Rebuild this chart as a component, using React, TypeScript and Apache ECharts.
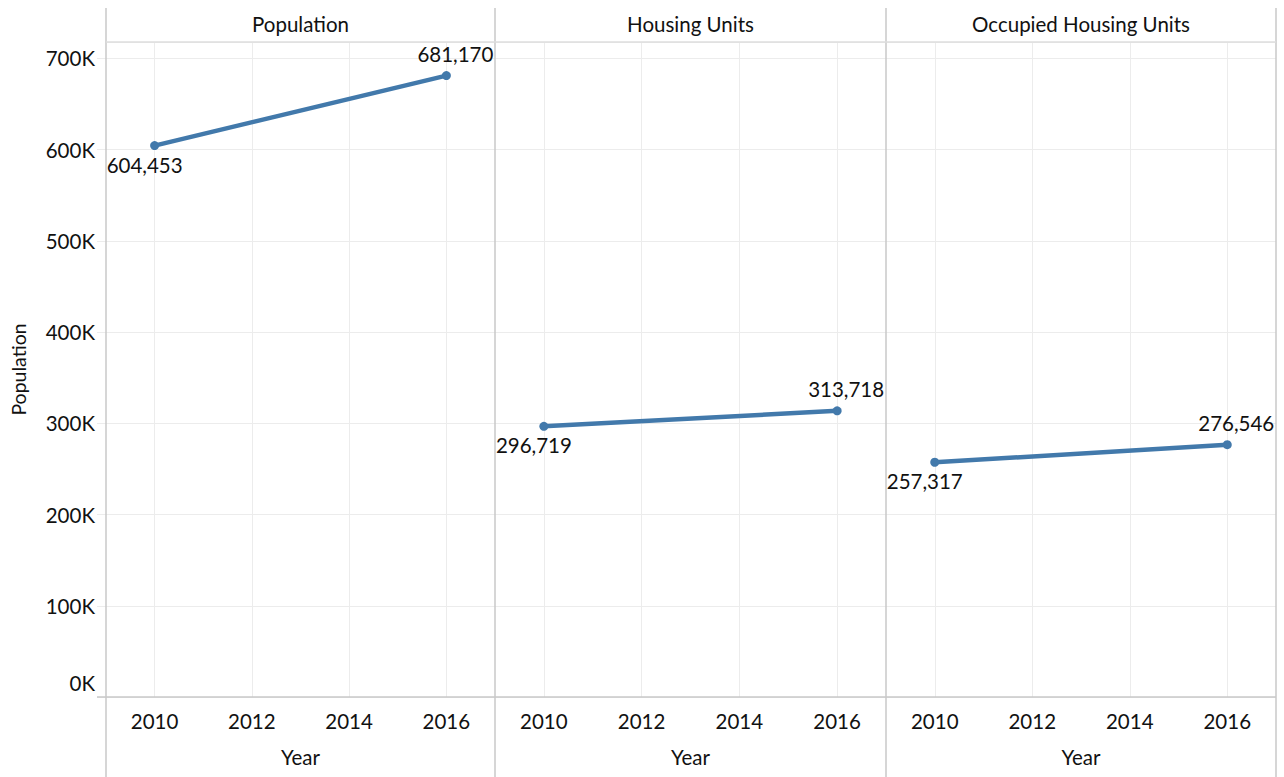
import React, { useEffect, useRef } from "react";
import * as echarts from "echarts";

const years = ["2009", "2010", "2011", "2012", "2013", "2014", "2015", "2016", "2017"];
const panelTitles = ["Population", "Housing Units", "Occupied Housing Units"];
const pointYears = ["2010", "2016"];
const populationValues = [604453, 681170];
const housingValues = [296719, 313718];
const occupiedValues = [257317, 276546];
const seriesValues = [populationValues, housingValues, occupiedValues];
const yTicks = [0, 100000, 200000, 300000, 400000, 500000, 600000, 700000];

const FONT = "Lato";
const FS = 20.5;
const TEXT = "#111111";
const LINE = "#4279ab";
const GRID = "#ececec";
const BORDER = "#c9c9c9";

const panelLeft = [106, 495, 886];
const panelRight = [495, 886, 1276];
const TOP = 42;
const BOTTOM = 697;

export default function App() {
  const ref = useRef<HTMLDivElement>(null);
  useEffect(() => {
    if (!ref.current) return;
    const chart = echarts.init(ref.current, null, { renderer: "svg" });
    const evenIdx = (i: number) => i % 2 === 1;
    const grids = panelLeft.map((l, i) => ({
      left: l,
      width: panelRight[i] - l,
      top: TOP,
      height: BOTTOM - TOP,
      containLabel: false,
    }));
    const xAxes = panelLeft.map((_, i) => ({
      type: "category",
      gridIndex: i,
      data: years,
      boundaryGap: false,
      axisLine: { show: false },
      axisTick: { show: false },
      axisLabel: {
        interval: (idx: number) => evenIdx(idx),
        color: TEXT,
        fontFamily: FONT,
        fontSize: FS,
        margin: 13,
      },
      splitLine: {
        show: true,
        interval: (idx: number) => evenIdx(idx),
        lineStyle: { color: GRID, width: 1 },
      },
      name: "Year",
      nameLocation: "middle",
      nameGap: 49,
      nameTextStyle: { color: TEXT, fontFamily: FONT, fontSize: FS },
    }));
    const yAxes = panelLeft.map((_, i) => ({
      type: "value",
      gridIndex: i,
      min: 0,
      max: 718000,
      interval: 100000,
      axisLine: { show: false },
      axisTick: {
        show: i === 0,
        length: 9,
        lineStyle: { color: GRID },
      },
      axisLabel: {
        show: i === 0,
        showMaxLabel: false,
        color: TEXT,
        fontFamily: FONT,
        fontSize: FS,
        margin: 11,
        formatter: (v: number) => {
          if (!yTicks.includes(v)) return "";
          if (v === 0) return "{z|0K}";
          return v / 1000 + "K";
        },
        rich: {
          z: { fontFamily: FONT, fontSize: FS, color: TEXT, padding: [0, 0, 28, 0] },
        },
      },
      splitLine: { show: true, lineStyle: { color: GRID, width: 1 } },
      name: i === 0 ? "Population" : "",
      nameLocation: "middle",
      nameGap: 78,
      nameTextStyle: { color: TEXT, fontFamily: FONT, fontSize: 19.5 },
    }));
    const series = seriesValues.map((vals, i) => ({
      type: "line",
      xAxisIndex: i,
      yAxisIndex: i,
      data: vals.map((v, j) => ({
        value: [pointYears[j], v],
        label:
          j === 0
            ? { position: "bottom", offset: [-10, -1] }
            : { position: "top", offset: [9, -2] },
      })),
      symbol: "circle",
      symbolSize: 9,
      lineStyle: { color: LINE, width: 4.5 },
      itemStyle: { color: LINE },
      label: {
        show: true,
        color: TEXT,
        fontFamily: FONT,
        fontSize: FS,
        formatter: (p: any) => Number(p.value[1]).toLocaleString("en-US"),
      },
    }));
    const lines: any[] = [];
    [106, 495, 886, 1276].forEach((x) => {
      lines.push({
        type: "line",
        shape: { x1: x, y1: 8, x2: x, y2: 777 },
        style: { stroke: BORDER, lineWidth: 1.5 },
        z: 10,
      });
    });
    lines.push({
      type: "line",
      shape: { x1: 106, y1: TOP, x2: 1276, y2: TOP },
      style: { stroke: "#dedede", lineWidth: 1.5 },
      z: 10,
    });
    lines.push({
      type: "line",
      shape: { x1: 97, y1: BOTTOM, x2: 1276, y2: BOTTOM },
      style: { stroke: BORDER, lineWidth: 1.5 },
      z: 10,
    });
    panelTitles.forEach((t, i) => {
      lines.push({
        type: "text",
        x: (panelLeft[i] + panelRight[i]) / 2,
        y: 24,
        style: {
          text: t,
          fill: TEXT,
          font: `${FS}px ${FONT}`,
          textAlign: "center",
          textVerticalAlign: "middle",
        },
      });
    });
    chart.setOption({
      animation: false,
      backgroundColor: "#ffffff",
      grid: grids,
      xAxis: xAxes,
      yAxis: yAxes,
      series,
      graphic: lines,
    });
    return () => chart.dispose();
  }, []);
  return (
    <div
      ref={ref}
      style={{ position: "fixed", left: 0, top: 0, width: 1284, height: 777 }}
    />
  );
}
